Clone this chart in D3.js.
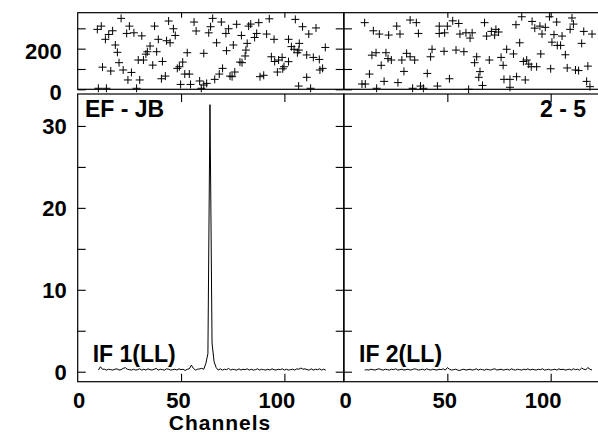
<!DOCTYPE html>
<html><head><meta charset="utf-8">
<script src="https://cdn.jsdelivr.net/npm/d3@7/dist/d3.min.js"></script>
<style>body{margin:0;background:#fff}svg{display:block}text{font-family:"Liberation Sans",Arial,Helvetica,sans-serif;font-weight:bold}</style>
</head><body>
<svg id="c" width="598" height="435"></svg>
<script>
// ---- data ----
const panelNames = ["EF - JB", "2 - 5"];
const ifLabels = ["IF 1(LL)", "IF 2(LL)"];
const xTicks = [0, 50, 100];
const ampTicks = [0, 10, 20, 30];
const ampMinorTicks = [5, 15, 25];
const phaseTicks = [0, 200];
const phaseMinorTicks = [100, 300];
const xLabel = "Channels";

// amplitude spectra, channels 10..120
const channels = d3.range(10, 121);
const amp1 = [0.2,0.6,0.3,0.3,0.2,0.3,0.25,0.2,0.3,0.35,0.2,0.25,0.4,0.5,0.3,0.25,0.2,0.3,0.2,0.25,
  0.35,0.2,0.3,0.2,0.35,0.25,0.2,0.3,0.4,0.2,0.3,0.25,0.2,0.35,0.3,0.2,0.25,0.3,0.2,0.35,
  0.25,0.3,0.15,0.3,0.35,0.8,0.4,0.2,0.3,0.35,0.4,0.3,1.0,2.2,32.6,3.5,1.2,0.5,0.2,0.35,
  0.2,0.3,0.25,0.4,0.2,0.3,0.25,0.2,0.35,0.2,0.3,0.25,0.35,0.2,0.3,0.2,0.25,0.35,0.2,0.3,
  0.25,0.2,0.3,0.2,0.35,0.25,0.2,0.3,0.25,0.35,0.2,0.3,0.2,0.25,0.3,0.2,0.35,0.3,0.45,0.3,
  0.35,0.25,0.2,0.35,0.2,0.3,0.25,0.35,0.2,0.3,0.2];
const amp2 = [0.2,0.25,0.2,0.3,0.25,0.2,0.3,0.35,0.25,0.2,0.3,0.25,0.2,0.3,0.25,0.35,0.2,0.25,0.3,0.2,
  0.25,0.3,0.2,0.25,0.35,0.3,0.2,0.25,0.3,0.2,0.35,0.25,0.2,0.3,0.25,0.2,0.3,0.25,0.35,0.2,
  0.5,0.3,0.2,0.25,0.3,0.2,0.15,0.25,0.3,0.2,0.25,0.3,0.2,0.25,0.35,0.2,0.3,0.25,0.2,0.3,
  0.25,0.2,0.3,0.35,0.2,0.25,0.3,0.2,0.25,0.3,0.2,0.35,0.25,0.2,0.3,0.25,0.2,0.3,0.25,0.35,
  0.2,0.3,0.25,0.2,0.3,0.25,0.35,0.2,0.25,0.3,0.2,0.25,0.3,0.2,0.35,0.25,0.3,0.2,0.25,0.3,
  0.2,0.35,0.25,0.3,0.2,0.45,0.3,0.25,0.5,0.3,0.2];

// phase scatter (channel, degrees)
const phase1Ch = [9.5,11.4,13.4,15,16.9,18.2,19.2,12,16,20,22,26,10,13.9,21,25,23.7,27.2,31,24.3,30,28.5,29.3,31.8,
  33.7,35,38.2,33,36.3,41,37.2,39,43,44.7,44,46.3,47.2,40.5,42.4,48.2,49.2,50.8,53,51.8,54,49.8,54.6,
  56.3,57.3,59,61,59.8,62.4,61,63.4,64.3,65.3,67.2,69.5,66.3,68.5,70.1,71.7,73,74.7,72,75.3,76.9,73.7,76,
  79.2,81.4,82,78.5,79.5,82.7,83.7,85.6,81,87.6,86.6,91.4,92.7,95,88.2,90,93.7,95.3,97.2,98.9,99.2,99.8,
  96.6,102,102,103.4,104.7,107,105.3,107.2,106.3,110.8,114,116.9,108.8,111.8,115.3,117.2,118.5,119.8,106.9,110.8,112.7];
const phase1Val = [295,311,246,270,288,218,182,109,90,131,95,83,5,5,349,311,275,278,263,46,46,5,144,144,
  185,213,185,173,119,137,311,246,239,229,336,298,265,52,65,103,111,134,180,75,75,24,24,
  331,287,41,21,5,29,177,278,308,349,229,331,49,75,103,275,298,62,190,218,320,65,85,
  265,193,226,134,131,311,321,255,164,328,275,272,347,246,62,69,160,137,144,157,101,111,
  85,136,246,210,197,193,344,226,180,169,157,147,308,272,302,95,103,206,16,59,5];
const phase2Ch = [10,14.2,17.1,21.6,27.1,25.5,32,35,36,13.5,15.5,20.3,21.3,22.9,28,30.3,32,34.2,18,12.3,29,40.3,
  8.7,10.3,15.8,19.4,26.1,33.2,37,38.4,45.2,42.6,41.9,46.1,46.1,48.7,50,52.6,55.5,48.4,54.2,58,51,
  56.1,59,62,61,60.3,68,64.2,63.2,70.3,65.8,65.2,67,69,71.3,73.5,74.8,72.9,76,77,78.7,82,
  77.4,80.3,83.5,87.7,80.3,83.2,86,85,86.8,88.4,89.4,90.6,93.2,91,92.3,94.8,97.4,95.8,95.2,
  99.4,102.9,101.6,100,100.6,103.2,104.8,105.5,107.1,108,112,113.5,110.3,111,109.4,115,116,120,118,117.4,119];
const phase2Val = [328,288,272,267,272,311,341,328,275,168,180,180,151,144,144,177,160,144,118,75,88,78,
  26,26,5,39,33,5,16,5,16,197,160,311,275,278,311,337,324,187,193,185,52,
  272,278,278,252,0,328,160,131,144,87,59,19,262,285,295,282,267,157,118,197,174,
  49,49,62,46,10,318,357,229,137,144,124,111,111,334,301,311,305,272,174,
  357,331,269,101,232,216,216,262,170,105,95,92,351,321,295,226,285,272,114,39,13];

// ---- drawing ----
const svg = d3.select("#c");
const panelX = [[77.7, 343.7], [344, 610]];
const xDomain = [0, 128.7];
const topY = [12.7, 89.3], botY = [94, 381.7];
const yPhase = d3.scaleLinear().domain([0, 377]).range([topY[1], topY[0]]);
const yAmp = d3.scaleLinear().domain([-1.22, 33.9]).range([botY[1], botY[0]]);
const ampData = [amp1, amp2];
const phCh = [phase1Ch, phase2Ch], phVal = [phase1Val, phase2Val];
const TL = 8, TICKFS = 22, LABFS = 23;

function styleAxis(g) {
  g.select(".domain").remove();
  g.selectAll(".tick line").attr("stroke", "#000").attr("stroke-width", 1.1);
}
function styleLabels(a, dy) {
  a.select(".domain").remove();
  a.selectAll("text").attr("font-size", TICKFS).attr("font-weight", "bold").attr("fill", "#000")
    .attr("dy", dy).attr("font-family", "Liberation Sans, Arial, sans-serif");
}

[0, 1].forEach(p => {
  const x = d3.scaleLinear().domain(xDomain).range(panelX[p]);
  const [x0, x1] = panelX[p];
  const g = svg.append("g");

  // ---- top phase panel ----
  g.append("rect").attr("x", x0).attr("y", topY[0]).attr("width", x1 - x0).attr("height", topY[1] - topY[0])
    .attr("fill", "none").attr("stroke", "#000").attr("stroke-width", 1.2);
  const allPh = phaseTicks.concat(phaseMinorTicks);
  g.append("g").attr("transform", `translate(${x0},0)`).call(d3.axisRight(yPhase).tickValues(allPh).tickSize(TL).tickFormat(""))
    .call(styleAxis);
  g.append("g").attr("transform", `translate(${x1},0)`).call(d3.axisLeft(yPhase).tickValues(allPh).tickSize(TL).tickFormat(""))
    .call(styleAxis);
  g.append("g").attr("transform", `translate(0,${topY[0]})`).call(d3.axisBottom(x).tickValues(xTicks.slice(1)).tickSize(5).tickFormat(""))
    .call(styleAxis);
  if (p === 0) {
    g.append("g").attr("transform", `translate(${x0 - 13},2)`).call(d3.axisLeft(yPhase).tickValues(phaseTicks).tickSize(0))
      .call(a => styleLabels(a, "0.36em"));
  }
  g.append("g").selectAll("path").data(phCh[p].map((c, i) => [c, phVal[p][i]])).join("path")
    .attr("d", d => `M${x(d[0]) - 4},${yPhase(d[1])}H${x(d[0]) + 4}M${x(d[0])},${yPhase(d[1]) - 4}V${yPhase(d[1]) + 4}`)
    .attr("stroke", "#000").attr("stroke-width", 1).attr("fill", "none");

  // ---- bottom amplitude panel ----
  g.append("rect").attr("x", x0).attr("y", botY[0]).attr("width", x1 - x0).attr("height", botY[1] - botY[0])
    .attr("fill", "none").attr("stroke", "#000").attr("stroke-width", 1.2);
  const allAmp = ampTicks.concat(ampMinorTicks);
  g.append("g").attr("transform", `translate(${x0},0)`).call(d3.axisRight(yAmp).tickValues(allAmp).tickSize(TL).tickFormat(""))
    .call(styleAxis);
  g.append("g").attr("transform", `translate(${x1},0)`).call(d3.axisLeft(yAmp).tickValues(allAmp).tickSize(TL).tickFormat(""))
    .call(styleAxis);
  g.append("g").attr("transform", `translate(0,${botY[0]})`).call(d3.axisBottom(x).tickValues(xTicks.slice(1)).tickSize(TL).tickFormat(""))
    .call(styleAxis);
  g.append("g").attr("transform", `translate(0,${botY[1]})`).call(d3.axisTop(x).tickValues(xTicks.slice(1)).tickSize(TL).tickFormat(""))
    .call(styleAxis);
  g.append("g").attr("transform", `translate(0,${botY[1] + 8})`).call(d3.axisBottom(x).tickValues(xTicks).tickSize(0))
    .call(a => { styleLabels(a, "0.71em"); a.selectAll("text").attr("dx", d => d >= 100 ? -8 : (d >= 10 ? -3 : 1)); });
  if (p === 0) {
    g.append("g").attr("transform", `translate(${x0 - 8},0)`).call(d3.axisLeft(yAmp).tickValues(ampTicks).tickSize(0))
      .call(a => styleLabels(a, "0.36em"));
  }
  const line = d3.line().x((d, i) => x(channels[i])).y(d => yAmp(d));
  g.append("path").attr("d", line(ampData[p])).attr("fill", "none").attr("stroke", "#000").attr("stroke-width", 1);

  // labels
  g.append("text").attr("x", x0 + 15).attr("y", 362).attr("font-size", LABFS).text(ifLabels[p]);
});

svg.append("text").attr("x", 85).attr("y", 117).attr("font-size", LABFS).text(panelNames[0]);
svg.append("text").attr("x", 586).attr("y", 117).attr("font-size", LABFS).attr("text-anchor", "end").text(panelNames[1]);
svg.append("text").attr("x", 220).attr("y", 430).attr("font-size", 21).attr("letter-spacing", 1)
  .attr("text-anchor", "middle").text(xLabel);
</script>
</body></html>
